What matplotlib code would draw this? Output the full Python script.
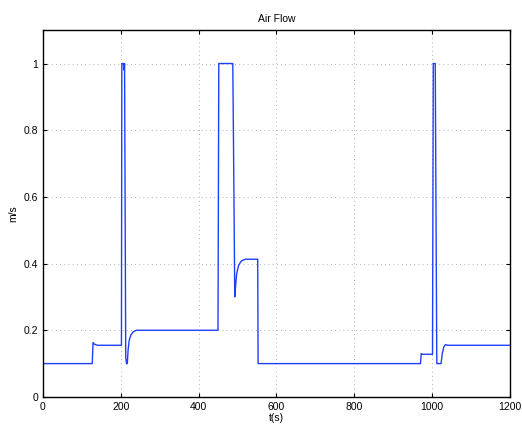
import matplotlib
matplotlib.use('Agg')
from matplotlib import pyplot as plt

plt.rcParams['font.family'] = ['Liberation Sans', 'DejaVu Sans']

# breakpoints
t = [0, 127, 129, 133, 140, 202, 203, 207, 209, 210, 213, 215, 217, 219, 222, 226, 232, 240,
     450, 452, 488, 491, 493, 495, 498, 503, 510, 520, 552, 553,
     970, 972, 975, 1001, 1003, 1008, 1012, 1023, 1026, 1030, 1034, 1040, 1200]
v = [0.1, 0.1, 0.163, 0.158, 0.155, 0.155, 1.0, 1.0, 0.98, 1.0, 0.12, 0.1, 0.1, 0.14, 0.17, 0.185, 0.195, 0.2,
     0.2, 1.0, 1.0, 0.6, 0.3, 0.33, 0.37, 0.395, 0.408, 0.413, 0.413, 0.1,
     0.1, 0.13, 0.128, 0.128, 1.0, 1.0, 0.1, 0.1, 0.13, 0.15, 0.157, 0.155, 0.155]

xticks = [0, 200, 400, 600, 800, 1000, 1200]
yticks = [0, 0.2, 0.4, 0.6, 0.8, 1]

fig = plt.figure(figsize=(5.22, 4.25), dpi=100)
ax = fig.add_axes([0.082, 0.066, 0.895, 0.863])

ax.plot(t, v, color='#1f3fff', lw=1.0)

ax.set_xlim(0, 1200)
ax.set_ylim(0, 1.1)
ax.set_xticks(xticks)
ax.set_yticks(yticks)
ax.set_yticklabels(['0', '0.2', '0.4', '0.6', '0.8', '1'])
ax.tick_params(direction='in', labelsize=7.5, length=3, width=0.8, top=True, right=True)
ax.grid(True, linestyle=(0, (1, 4)), color='#999999', lw=0.6)
for s in ax.spines.values():
    s.set_linewidth(1.0)

ax.set_title('Air Flow', fontsize=7.5)
ax.set_xlabel('t(s)', fontsize=7.5, labelpad=1)
ax.set_ylabel('m/s', fontsize=7.5)

fig.savefig('out.png', dpi=100)
